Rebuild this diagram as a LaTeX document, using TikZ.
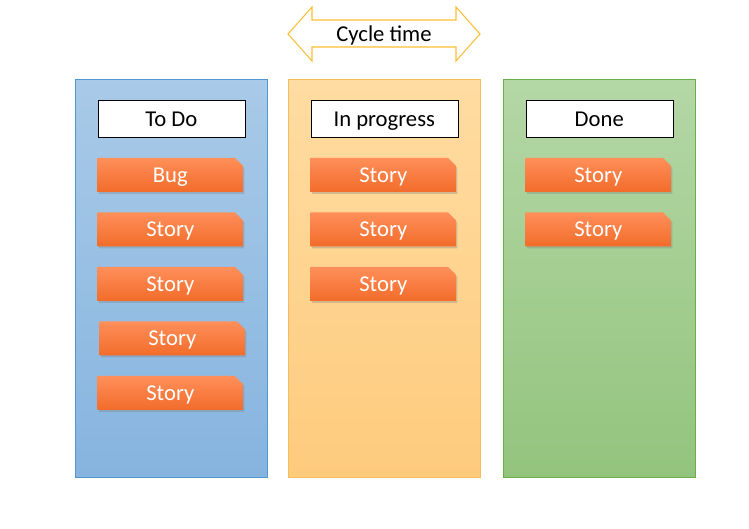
\documentclass[tikz,border=0pt]{standalone}
\usepackage{fontspec}
\setmainfont{Carlito}
\usetikzlibrary{positioning,shapes.misc,shadows}
\definecolor{ColBlueTop}{RGB}{169,202,232}
\definecolor{ColBlueBot}{RGB}{134,180,223}
\definecolor{ColBlueLine}{RGB}{80,150,210}
\definecolor{ColOrangeTop}{RGB}{255,220,162}
\definecolor{ColOrangeBot}{RGB}{254,203,125}
\definecolor{ColOrangeLine}{RGB}{246,190,90}
\definecolor{ColGreenTop}{RGB}{180,215,166}
\definecolor{ColGreenBot}{RGB}{147,196,125}
\definecolor{ColGreenLine}{RGB}{106,173,73}
\definecolor{CardTop}{RGB}{255,143,90}
\definecolor{CardBot}{RGB}{242,108,42}
\definecolor{CycleLine}{RGB}{253,190,50}

\begin{document}
\begin{tikzpicture}[x=0.75pt,y=-0.75pt,
node distance=15pt,
label text/.style={font=\fontsize{17}{20}\selectfont,text height=14.6pt,text depth=3.4pt},
column/.style={rectangle,draw=#1Line,top color=#1Top,bottom color=#1Bot,
minimum width=144pt,minimum height=298.5pt,inner sep=0pt,anchor=north west},
header/.style={rectangle,draw=black,fill=white,minimum width=110.25pt,
minimum height=27.75pt,inner sep=0pt,label text},
card/.style={chamfered rectangle,chamfered rectangle corners=north east,
chamfered rectangle xsep=3pt,chamfered rectangle ysep=3pt,
top color=CardTop,bottom color=CardBot,text=white,
minimum width=109pt,minimum height=25.5pt,inner sep=0pt,
drop shadow={shadow xshift=1pt,shadow yshift=-1.5pt,opacity=0.35},
label text}
]
\useasboundingbox (0,0) rectangle (749,528);
% cycle time arrow
\coordinate (ltip) at (288,34);
\coordinate (rtip) at (480,34);
\draw[CycleLine,fill=white,line width=0.8pt,line join=miter]
  (ltip) -- (312,7) -- (312,20) -- (456,20) -- (456,7) -- (rtip)
  -- (456,61) -- (456,47) -- (312,47) -- (312,61) -- cycle;
\node[label text,inner sep=0pt] (cycle) at (384,34) {Cycle time};
% columns
\node[column=ColBlue] (todo) at (75,79) {};
\node[column=ColOrange] (inprog) at (288,79) {};
\node[column=ColGreen] (done) at (503,79) {};
% headers
\node[header,below=15.75pt of todo.north] (todoh) {To Do};
\node[header,below=15.75pt of inprog.north] (inprogh) {In progress};
\node[header,below=15.75pt of done.north] (doneh) {Done};
% to do cards
\node[card,below=of todoh,xshift=-0.75pt] (bug) {Bug};
\node[card,below=of bug] (t1) {Story};
\node[card,below=of t1] (t2) {Story};
\node[card,below=of t2,xshift=1.5pt] (t3) {Story};
\node[card,below=of t3,xshift=-1.5pt] (t4) {Story};
% in progress cards
\node[card,below=of inprogh,xshift=-0.75pt] (p1) {Story};
\node[card,below=of p1] (p2) {Story};
\node[card,below=of p2] (p3) {Story};
% done cards
\node[card,below=of doneh,xshift=-0.75pt] (d1) {Story};
\node[card,below=of d1] (d2) {Story};
\end{tikzpicture}
\end{document}
